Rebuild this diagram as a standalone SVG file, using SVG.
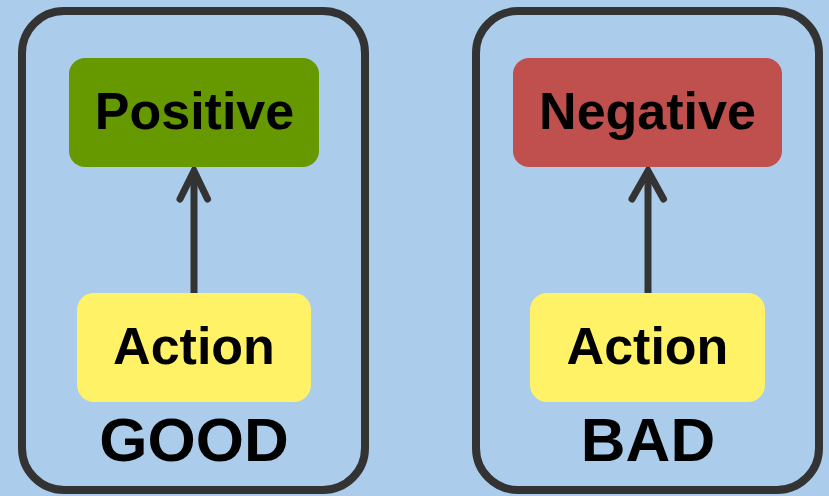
<svg xmlns="http://www.w3.org/2000/svg" width="829" height="496" viewBox="0 0 829 496">
  <style>
    .frame { fill: #abcdeb; stroke: #333333; stroke-width: 8; }
    .box { stroke: none; }
    .label { font-family: "Liberation Sans", Arial, sans-serif; font-weight: bold; fill: #000000; text-anchor: middle; }
    .node { font-size: 52px; }
    .title { font-size: 62px; }
    .shaft { fill: none; stroke: #333333; stroke-width: 7; stroke-linecap: butt; }
    .head { fill: none; stroke: #333333; stroke-width: 7; stroke-linecap: round; stroke-linejoin: miter; }
  </style>
  <rect width="829" height="496" fill="#abcdeb"/>

  <!-- panels -->
  <g id="panel-good">
    <rect class="frame" x="22" y="11" width="343" height="479" rx="42"/>
    <text class="label title" x="194" y="461">GOOD</text>
  </g>
  <g id="panel-bad">
    <rect class="frame" x="476" y="11" width="343" height="479" rx="42"/>
    <text class="label title" x="648" y="461">BAD</text>
  </g>

  <!-- connectors: Action -> outcome -->
  <g id="connectors">
    <g id="edge-good">
      <path class="shaft" d="M194 293 V174"/>
      <path class="head" d="M180 199 L194 171 L207.5 199"/>
    </g>
    <g id="edge-bad">
      <path class="shaft" d="M648 293 V174"/>
      <path class="head" d="M632 199 L648 171 L663.5 199"/>
    </g>
  </g>

  <!-- nodes -->
  <g id="positive">
    <rect class="box" x="69" y="58" width="250" height="109" rx="16" fill="#669900"/>
    <text class="label node" x="194.5" y="129">Positive</text>
  </g>
  <g id="action-good">
    <rect class="box" x="77" y="293" width="234" height="109" rx="17" fill="#fff266"/>
    <text class="label node" x="194" y="364">Action</text>
  </g>
  <g id="negative">
    <rect class="box" x="513" y="58" width="269" height="109" rx="16" fill="#c0504d"/>
    <text class="label node" x="647.5" y="129">Negative</text>
  </g>
  <g id="action-bad">
    <rect class="box" x="530" y="293" width="235" height="109" rx="17" fill="#fff266"/>
    <text class="label node" x="647.5" y="364">Action</text>
  </g>
</svg>
